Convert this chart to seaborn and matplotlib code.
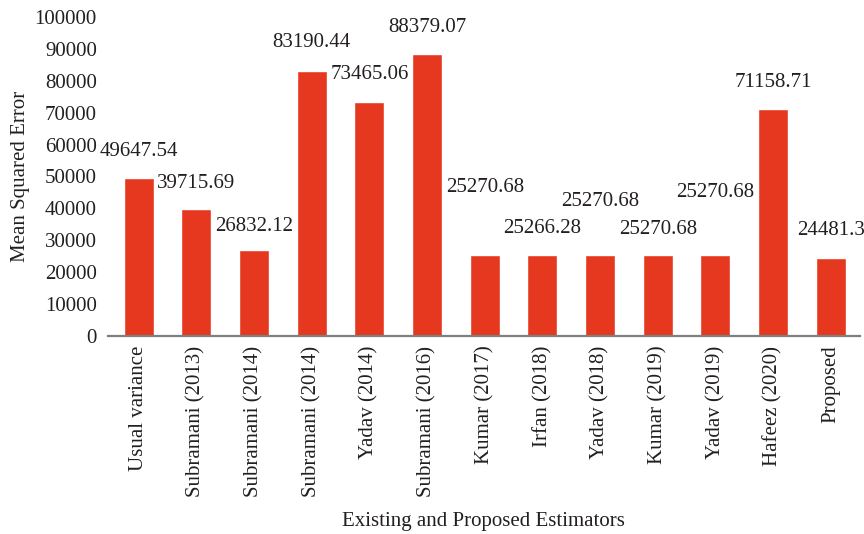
import matplotlib
matplotlib.use("Agg")
import matplotlib.pyplot as plt
import seaborn as sns
import pandas as pd

estimators = [
    "Usual variance", "Subramani (2013)", "Subramani (2014)", "Subramani (2014)",
    "Yadav (2014)", "Subramani (2016)", "Kumar (2017)", "Irfan (2018)",
    "Yadav (2018)", "Kumar (2019)", "Yadav (2019)", "Hafeez (2020)", "Proposed",
]
mse = [
    49647.54, 39715.69, 26832.12, 83190.44, 73465.06, 88379.07, 25270.68,
    25266.28, 25270.68, 25270.68, 25270.68, 71158.71, 24481.3,
]
value_labels = [
    "49647.54", "39715.69", "26832.12", "83190.44", "73465.06", "88379.07",
    "25270.68", "25266.28", "25270.68", "25270.68", "25270.68", "71158.71",
    "24481.3",
]
y_ticks = [0, 10000, 20000, 30000, 40000, 50000, 60000, 70000, 80000, 90000, 100000]

# vertical lift of each value label above its bar, in pixels
label_lift = [26, 26, 24, 28, 27, 27, 68, 27, 54, 26, 63, 27, 27]

BAR = "#E6381E"
INK = "#231F20"
FS = 15

sns.set_theme(style="white")
plt.rcParams["font.family"] = ["Liberation Serif", "DejaVu Serif"]

df = pd.DataFrame({"estimator": range(len(estimators)), "mse": mse})

fig = plt.figure(figsize=(8.64, 5.34), dpi=100)
ax = fig.add_axes([0.125, 0.371, 0.870, 0.597])

sns.barplot(data=df, x="estimator", y="mse", color=BAR, width=0.52,
            saturation=1, ax=ax)

for i, (v, txt) in enumerate(zip(mse, value_labels)):
    ax.annotate(txt, xy=(i, v), xytext=(0, label_lift[i]),
                textcoords="offset pixels", ha="center", va="center",
                fontsize=FS, color=INK, annotation_clip=False)

ax.set_xlim(-0.53, len(estimators) - 0.5)
ax.set_ylim(0, 100000)
ax.set_yticks(y_ticks)
ax.set_yticklabels([str(t) for t in y_ticks], fontsize=FS, color=INK)
ax.set_xticks(range(len(estimators)))
ax.set_xticklabels(estimators, rotation=90, fontsize=FS, color=INK)
ax.tick_params(axis="both", length=0)
ax.tick_params(axis="y", pad=8)
ax.tick_params(axis="x", pad=7)

for s in ("left", "right", "top"):
    ax.spines[s].set_visible(False)
ax.spines["bottom"].set_color("#7F7F7F")
ax.spines["bottom"].set_linewidth(1.6)

ax.set_ylabel("Mean Squared Error", fontsize=FS, color=INK, labelpad=3)
ax.set_xlabel("Existing and Proposed Estimators", fontsize=FS, color=INK,
              labelpad=11)

fig.savefig("out.png", dpi=100)
